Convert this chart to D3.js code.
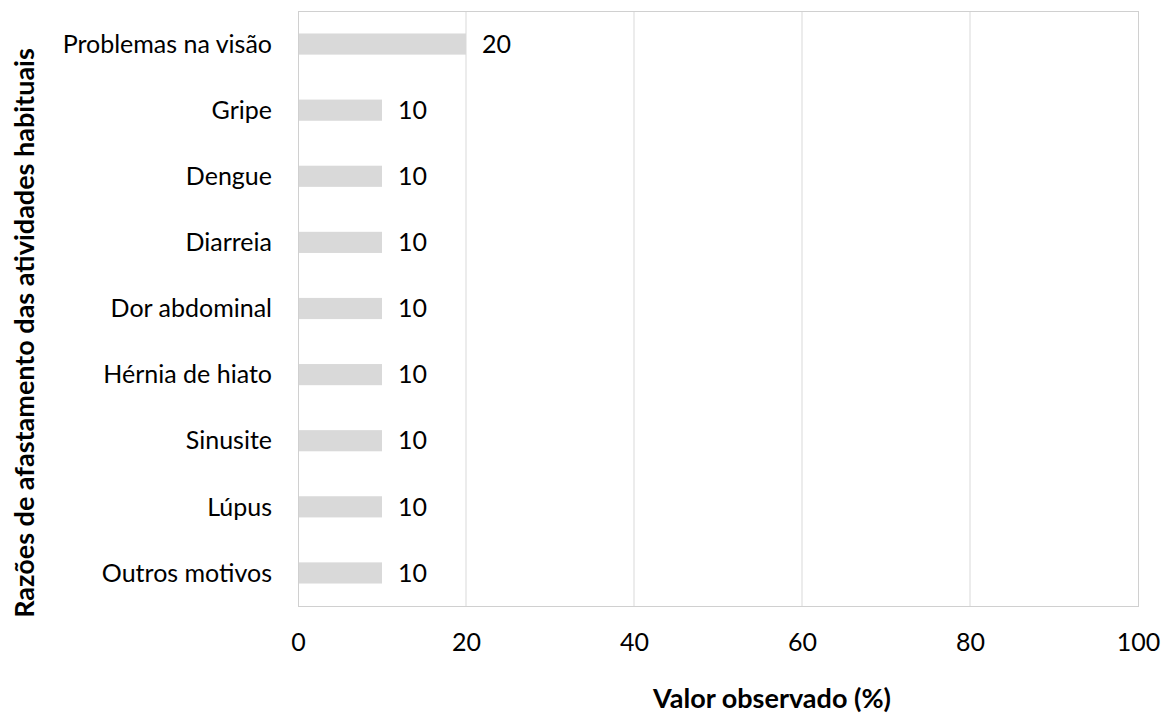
<!DOCTYPE html>
<html>
<head>
<meta charset="utf-8">
<script src="https://cdn.jsdelivr.net/npm/d3@7"></script>
<style>
  body { margin: 0; background: #fff; }
  text { font-family: Lato, sans-serif; fill: #000; }
</style>
</head>
<body>
<div id="chart"></div>
<script>
// ---------- DATA ----------
const categories = [
  "Problemas na visão",
  "Gripe",
  "Dengue",
  "Diarreia",
  "Dor abdominal",
  "Hérnia de hiato",
  "Sinusite",
  "Lúpus",
  "Outros motivos",
];
const values = [20, 10, 10, 10, 10, 10, 10, 10, 10];
const xTicks = [0, 20, 40, 60, 80, 100];

const width = 1163;
const height = 717;
const margin = { top: 11, right: 25, bottom: 111, left: 298 };
const fontSize = "25px";
const titleSize = "27px";

const svg = d3
  .select("#chart")
  .append("svg")
  .attr("width", width)
  .attr("height", height);

const innerW = width - margin.left - margin.right;
const innerH = height - margin.top - margin.bottom;

const g = svg.append("g").attr("transform", `translate(${margin.left},${margin.top})`);

const x = d3.scaleLinear().domain([0, 100]).range([0, innerW]);
const y = d3.scaleBand().domain(categories).range([0, innerH]).paddingInner(0.68).paddingOuter(0.34);

// grid lines
g.selectAll(".grid")
  .data(xTicks.slice(1, -1))
  .enter()
  .append("line")
  .attr("x1", (d) => x(d))
  .attr("x2", (d) => x(d))
  .attr("y1", 0)
  .attr("y2", innerH)
  .attr("stroke", "#d9d9d9")
  .attr("stroke-width", 1);

// frame
g.append("rect")
  .attr("x", 0.5)
  .attr("y", 0.5)
  .attr("width", innerW)
  .attr("height", innerH)
  .attr("fill", "none")
  .attr("stroke", "#d0d0d0")
  .attr("stroke-width", 1);

// bars
g.selectAll(".bar")
  .data(values)
  .enter()
  .append("rect")
  .attr("x", x(0) + 1)
  .attr("y", (d, i) => y(categories[i]))
  .attr("width", (d) => x(d) - x(0) - 1)
  .attr("height", y.bandwidth())
  .attr("fill", "#d9d9d9");

// value labels
g.selectAll(".val")
  .data(values)
  .enter()
  .append("text")
  .attr("x", (d) => x(d) + 16)
  .attr("y", (d, i) => y(categories[i]) + y.bandwidth() / 2)
  .attr("dy", "0.35em")
  .style("font-size", fontSize)
  .text((d) => d);

// category labels
g.selectAll(".cat")
  .data(categories)
  .enter()
  .append("text")
  .attr("x", -26)
  .attr("y", (d) => y(d) + y.bandwidth() / 2)
  .attr("dy", "0.35em")
  .attr("text-anchor", "end")
  .style("font-size", fontSize)
  .text((d) => d);

// x tick labels
const xAxis = d3.axisBottom(x).tickValues(xTicks).tickSize(0).tickPadding(27);
const ax = g.append("g").attr("transform", `translate(0,${innerH})`).call(xAxis);
ax.select(".domain").remove();
ax.selectAll("text").style("font-size", fontSize).style("font-family", "Lato, sans-serif").attr("fill", "#000");

// axis titles
svg.append("text")
  .attr("x", 772)
  .attr("y", 708)
  .attr("text-anchor", "middle")
  .style("font-size", titleSize)
  .style("font-weight", "bold")
  .text("Valor observado (%)");

svg.append("text")
  .attr("transform", `translate(34,333) rotate(-90)`)
  .attr("text-anchor", "middle")
  .style("font-size", titleSize)
  .style("font-weight", "bold")
  .text("Razões de afastamento das atividades habituais");
</script>
</body>
</html>
